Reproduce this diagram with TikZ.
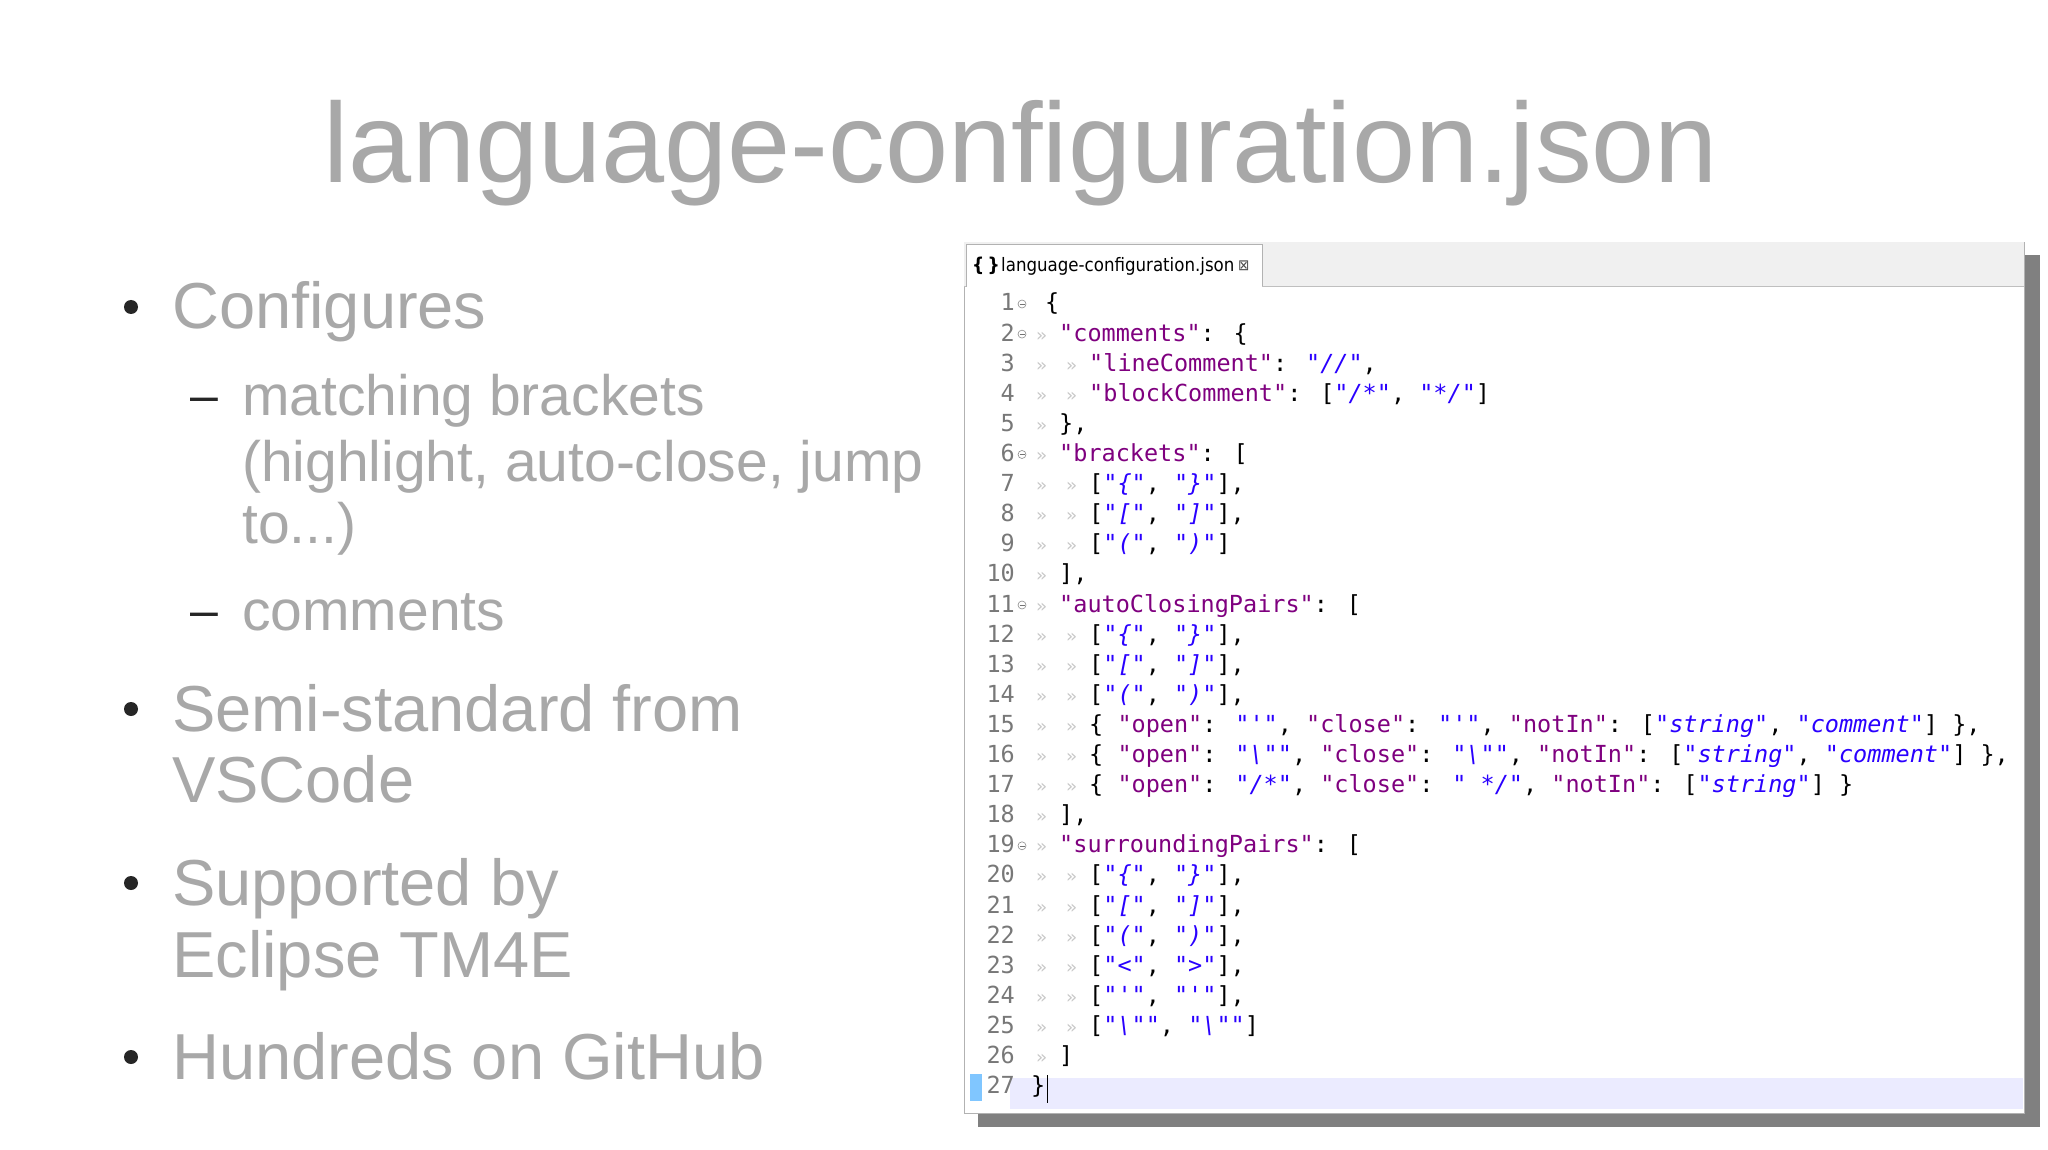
\documentclass[tikz,border=0pt]{standalone}
\usepackage{fontspec}
\setmainfont{Liberation Sans}
\newfontfamily\codefont{DejaVu Sans Mono}
\newfontfamily\uifont{DejaVu Sans Condensed}
\definecolor{slidegray}{HTML}{A8A8A8}
\definecolor{keyc}{HTML}{7F007F}
\definecolor{strc}{HTML}{2A00FF}
\definecolor{lnum}{HTML}{787878}
\definecolor{tabm}{HTML}{C8C8C8}
\newcommand{\qq}{\char"22 }
\newcommand{\K}[1]{\textcolor{keyc}{\qq#1\qq}}
\newcommand{\Sv}[1]{\textcolor{strc}{\itshape\qq#1\qq}}
\newcommand{\ob}{\char"7B }
\newcommand{\cb}{\char"7D }
\newcommand{\sq}{\char"27 }
\begin{document}
\begin{tikzpicture}[x=1pt,y=-1pt,
  title/.style={anchor=base,font=\fontsize{113.5}{113.5}\selectfont,text=slidegray,inner sep=0},
  lvl1/.style={anchor=base west,font=\fontsize{65}{65}\selectfont,text=slidegray,inner sep=0},
  lvl2/.style={anchor=base west,font=\fontsize{57}{57}\selectfont,text=slidegray,inner sep=0},
  dot/.style={circle,fill=black!85,inner sep=0,minimum size=14pt},
  dashm/.style={anchor=base west,font=\fontsize{50}{50}\selectfont,text=black!85,inner sep=0},
  code/.style={anchor=base west,font=\codefont\fontsize{23.5}{23.5}\selectfont,inner sep=0},
  lno/.style={anchor=base east,font=\codefont\fontsize{23.5}{23.5}\selectfont,text=lnum,inner sep=0},
  tm/.style={anchor=base west,font=\codefont\fontsize{18}{18}\selectfont,text=tabm,inner sep=0},
  fold/.style={circle,draw=black!45,line width=0.6pt,inner sep=0,minimum size=8pt}]
\useasboundingbox (0,0) rectangle (2048,1150);
\fill[white] (0,0) rectangle (2048,1150);
% title
\node[title] (t) at (1021,183) {language-configuration.json};
% bullets
\node[dot] (d1) at (131,307) {};
\node[lvl1] (b1) at (172,329) {Configures};
\node[dashm] (m1) at (190,412) {–};
\node[lvl2] (s1) at (242,415) {matching brackets};
\node[lvl2] (s1b) at (242,481) {(highlight, auto-close, jump};
\node[lvl2] (s1c) at (242,543) {to...)};
\node[dashm] (m2) at (190,627) {–};
\node[lvl2] (s2) at (242,630) {comments};
\node[dot] (d2) at (131,709) {};
\node[lvl1] (b2) at (172,731) {Semi-standard from};
\node[lvl1] (b2b) at (172,802) {VSCode};
\node[dot] (d3) at (131,883) {};
\node[lvl1] (b3) at (172,905) {Supported by};
\node[lvl1] (b3b) at (172,977) {Eclipse TM4E};
\node[dot] (d4) at (131,1057) {};
\node[lvl1] (b4) at (172,1079) {Hundreds on GitHub};
% editor panel
\fill[black!50] (978,255) rectangle (2040,1127);
\fill[white] (964,242) rectangle (2024,1113);
\draw[black!30,line width=0.8pt] (964,242) rectangle (2024,1113);
\fill[black!6] (964,242) rectangle (2024,286);
\draw[black!25] (964,286) -- (2024,286);
\fill[white] (966,244) rectangle (1262,287);
\draw[black!30] (966,287) -- (966,244) -- (1262,244) -- (1262,286);
\node[anchor=base west,inner sep=0,font=\uifont\bfseries\fontsize{19}{19}\selectfont] (tb) at (972,272) {\{\,\}};
\node[anchor=base west,inner sep=0,font=\uifont\fontsize{18.5}{18.5}\selectfont] (tn) at (1001,272) {language-configuration.json};
\node[anchor=base west,inner sep=0,font=\uifont\fontsize{15}{15}\selectfont,text=black!70] (tx) at (1238,271) {⊠};
% current line highlight
\fill[blue!8] (1010,1078) rectangle (2023,1109);
\fill[blue!45!cyan!50] (970,1074) rectangle (982,1101);
% line numbers and markers
\foreach \i in {1,...,27}{
  \node[lno] (ln\i) at (1015,{311+(\i-1)*30.1}) {\i};
}
\foreach \i in {1,2,6,11,19}{
  \node[fold] (f\i) at (1022,{304+(\i-1)*30.1}) {};
  \draw[black!55,line width=0.6pt] ([xshift=-2.5pt]f\i.center) -- ([xshift=2.5pt]f\i.center);
}
\foreach \i in {2,3,4,5,6,7,8,9,10,11,12,13,14,15,16,17,18,19,20,21,22,23,24,25,26}{
  \node[tm] (ta\i) at (1036,{311+(\i-1)*30.1}) {»};
}
\foreach \i in {3,4,7,8,9,12,13,14,15,16,17,20,21,22,23,24,25}{
  \node[tm] (tb\i) at (1066,{311+(\i-1)*30.1}) {»};
}
% code
\def\la{1045}\def\lb{1059}\def\lc{1089}
\node[code] (c1) at (\la,311.0) {\ob};
\node[code] (c2) at (\lb,341.1) {\K{comments}: \ob};
\node[code] (c3) at (\lc,371.2) {\K{lineComment}: \Sv{//},};
\node[code] (c4) at (\lc,401.3) {\K{blockComment}: [\Sv{/*}, \Sv{*/}]};
\node[code] (c5) at (\lb,431.4) {\cb,};
\node[code] (c6) at (\lb,461.5) {\K{brackets}: [};
\node[code] (c7) at (\lc,491.6) {[\Sv{\ob}, \Sv{\cb}],};
\node[code] (c8) at (\lc,521.7) {[\Sv{[}, \Sv{]}],};
\node[code] (c9) at (\lc,551.8) {[\Sv{(}, \Sv{)}]};
\node[code] (c10) at (\lb,581.9) {],};
\node[code] (c11) at (\lb,612.0) {\K{autoClosingPairs}: [};
\node[code] (c12) at (\lc,642.1) {[\Sv{\ob}, \Sv{\cb}],};
\node[code] (c13) at (\lc,672.2) {[\Sv{[}, \Sv{]}],};
\node[code] (c14) at (\lc,702.3) {[\Sv{(}, \Sv{)}],};
\node[code] (c15) at (\lc,732.4) {\ob{} \K{open}: \Sv{\sq}, \K{close}: \Sv{\sq}, \K{notIn}: [\Sv{string}, \Sv{comment}] \cb,};
\node[code] (c16) at (\lc,762.5) {\ob{} \K{open}: \Sv{\textbackslash\qq}, \K{close}: \Sv{\textbackslash\qq}, \K{notIn}: [\Sv{string}, \Sv{comment}] \cb,};
\node[code] (c17) at (\lc,792.6) {\ob{} \K{open}: \Sv{/*}, \K{close}: \Sv{ */}, \K{notIn}: [\Sv{string}] \cb};
\node[code] (c18) at (\lb,822.7) {],};
\node[code] (c19) at (\lb,852.8) {\K{surroundingPairs}: [};
\node[code] (c20) at (\lc,882.9) {[\Sv{\ob}, \Sv{\cb}],};
\node[code] (c21) at (\lc,913.0) {[\Sv{[}, \Sv{]}],};
\node[code] (c22) at (\lc,943.1) {[\Sv{(}, \Sv{)}],};
\node[code] (c23) at (\lc,973.2) {[\Sv{<}, \Sv{>}],};
\node[code] (c24) at (\lc,1003.3) {[\Sv{\sq}, \Sv{\sq}],};
\node[code] (c25) at (\lc,1033.4) {[\Sv{\textbackslash\qq}, \Sv{\textbackslash\qq}]};
\node[code] (c26) at (\lb,1063.5) {]};
\node[code] (c27) at (1031,1093.6) {\cb};
\draw[black,line width=1.2pt] ([xshift=2pt]c27.south east) ++(0,5) -- ++(0,-28);
\end{tikzpicture}
\end{document}
